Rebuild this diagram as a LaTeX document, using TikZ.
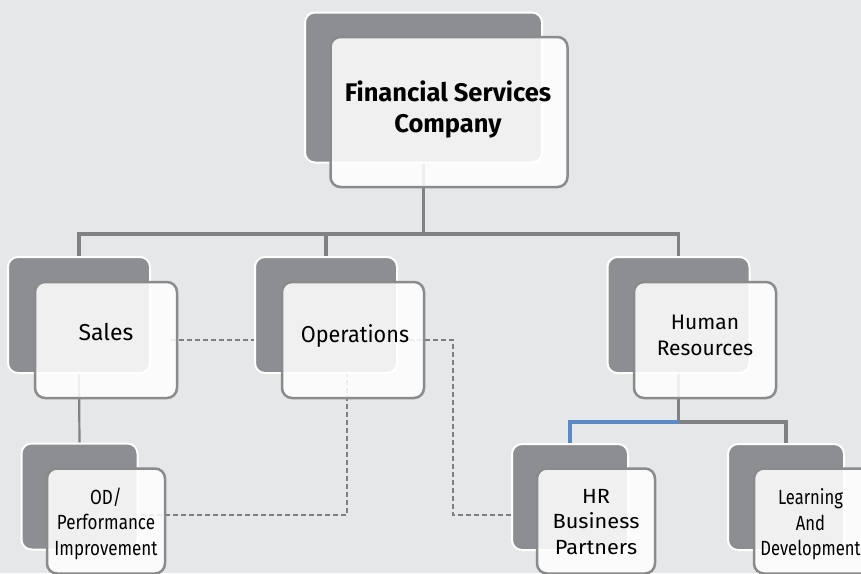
\documentclass[tikz,border=0pt]{standalone}
\usepackage{fontspec}
\setmainfont{Fira Sans}
\newfontfamily\condfont[FakeStretch=0.83]{Fira Sans}
\newfontfamily\ldfont[FakeStretch=0.81]{Fira Sans}
\newfontfamily\opsfont[FakeStretch=0.94]{Fira Sans}
\newfontfamily\widefont[FakeStretch=1.06]{Fira Sans}
\usetikzlibrary{calc}
\definecolor{bgc}{HTML}{E6E7E8}
\definecolor{backgray}{HTML}{8D8E92}
\definecolor{frontline}{HTML}{8A8B8D}
\definecolor{connc}{HTML}{808184}
\definecolor{dashc}{HTML}{7F7F7F}
\definecolor{bluec}{HTML}{5A8AC6}
\pgfdeclarelayer{bglayer}
\pgfdeclarelayer{connlayer}
\pgfsetlayers{bglayer,connlayer,main}
\begin{document}
\begin{tikzpicture}[x=1pt,y=-1pt,
  backbox/.style={draw=white,line width=2pt,fill=backgray,rounded corners=10pt,inner sep=0pt},
  frontbox/.style={draw=frontline,line width=2.5pt,fill=white,fill opacity=0.87,draw opacity=1,rounded corners=10pt,inner sep=0pt},
  bigsz/.style={minimum width=237pt,minimum height=150pt},
  midsz/.style={minimum width=142pt,minimum height=116pt},
  backsm/.style={minimum width=116pt,minimum height=106pt},
  frontsm/.style={minimum width=118pt,minimum height=105pt},
  conn/.style={draw=connc,line width=3.5pt},
  thinconn/.style={draw=connc,line width=2.2pt},
  blueconn/.style={draw=bluec,line width=3.3pt},
  dashconn/.style={draw=dashc,line width=2pt,dash pattern=on 5pt off 3pt},
  ttl/.style={align=center,inner sep=0pt,font=\fontsize{25.5}{31}\selectfont\bfseries},
  midtxt/.style={align=center,inner sep=0pt,font=\fontsize{23}{28}\selectfont},
  opstxt/.style={align=center,inner sep=0pt,font=\opsfont\fontsize{23}{28}\selectfont},
  hrtxt/.style={align=center,inner sep=0pt,font=\fontsize{21}{26.7}\selectfont},
  condtxt/.style={align=center,inner sep=0pt,font=\condfont\fontsize{20.5}{25.5}\selectfont},
  ldtxt/.style={align=center,inner sep=0pt,font=\ldfont\fontsize{20.5}{25.5}\selectfont},
  widetxt/.style={align=center,inner sep=0pt,font=\widefont\fontsize{20.5}{25.5}\selectfont}]
\useasboundingbox (0,0) rectangle (861,573);
\begin{pgfonlayer}{bglayer}
\fill[bgc] (0,0) rectangle (861,573);
\end{pgfonlayer}
% back boxes
\node[backbox,bigsz] (titleB) at (423.5,87.5) {};
\node[backbox,midsz] (salesB) at (79,315) {};
\node[backbox,midsz] (opsB) at (326,315) {};
\node[backbox,midsz] (hrB) at (678.5,315) {};
\node[backbox,backsm] (odB) at (79.5,496.5) {};
\node[backbox,backsm] (hrbpB) at (570,497) {};
\node[backbox,backsm] (ldB) at (786,497) {};
% front boxes
\node[frontbox,bigsz] (titleF) at (449,112) {};
\node[frontbox,midsz] (salesF) at (106,340) {};
\node[frontbox,midsz] (opsF) at (353,340) {};
\node[frontbox,midsz] (hrF) at (705,340) {};
\node[frontbox,frontsm] (odF) at (106,521) {};
\node[frontbox,frontsm] (hrbpF) at (596,521) {};
\node[frontbox,frontsm] (ldF) at (813,521) {};
% texts
\node[ttl] (titleT) at (448,109.5) {Financial Services\\Company};
\node[midtxt] (salesT) at (106,332.5) {Sales};
\node[opstxt] (opsT) at (355,335.5) {Operations};
\node[hrtxt] (hrT) at (705,335.5) {Human\\Resources};
\node[condtxt] (odT) at (106,523.5) {OD/\\Performance\\Improvement};
\node[widetxt] (hrbpT) at (596,522) {HR\\Business\\Partners};
\node[ldtxt] (ldT) at (810.5,524.5) {Learning\\And\\Development};
% coordinates for connectors
\coordinate (bus) at (423.5,234);
\coordinate (hrj) at (678.5,422);
\coordinate (opsHR) at (453,515);
\coordinate (opsOD) at (347,515);
\coordinate (salesDash) at (171,340);
% connectors (behind boxes)
\begin{pgfonlayer}{connlayer}
\draw[conn] (titleB.south) -- (bus);
\draw[conn] (bus) -| (salesB.north);
\draw[conn] (bus) -| (opsB.north);
\draw[conn] (bus) -| (hrB.north);
\draw[thinconn] (salesB.south) -- (odB.north);
\draw[conn] (hrB.south) -- (hrj);
\draw[blueconn] (hrj) -| (hrbpB.north);
\draw[conn] (hrj) -| (ldB.north);
\draw[dashconn] (salesDash) -- (opsF.center);
\draw[dashconn] (opsF.center) -| (opsHR) -- (hrbpB.center |- opsHR);
\draw[dashconn] (opsOD |- opsF.center) -- (opsOD) -- (odB.center |- opsOD);
\end{pgfonlayer}
\end{tikzpicture}
\end{document}
